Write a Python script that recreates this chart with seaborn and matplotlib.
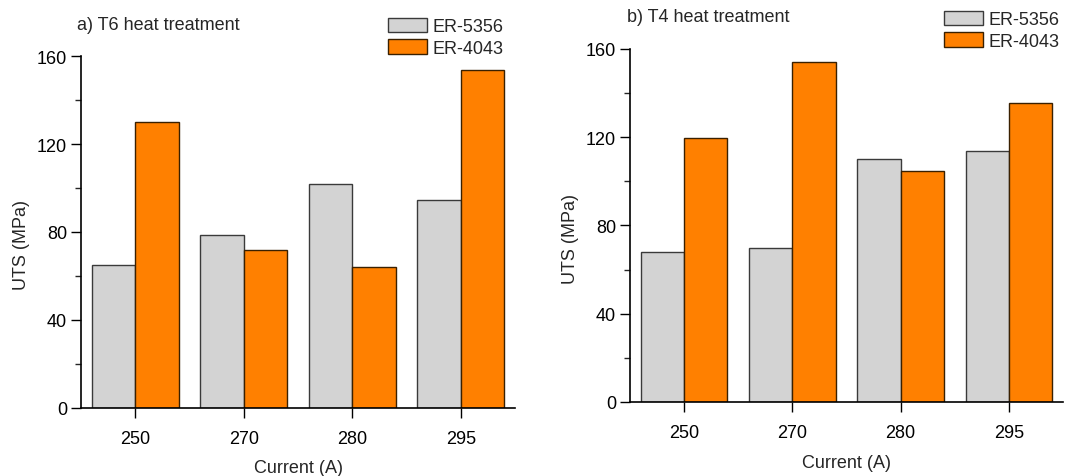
import matplotlib
matplotlib.use("Agg")
import matplotlib.pyplot as plt
import seaborn as sns
import pandas as pd
from matplotlib.ticker import MultipleLocator
from matplotlib.patches import Patch

currents = ["250", "270", "280", "295"]
series = ["ER-5356", "ER-4043"]
t6_er5356 = [65, 78.5, 101.8, 94.4]
t6_er4043 = [130.2, 71.7, 64.1, 153.8]
t4_er5356 = [67.9, 70.0, 110.0, 113.7]
t4_er4043 = [119.7, 154.0, 104.5, 135.5]

colors = {"ER-5356": "#D3D3D3", "ER-4043": "#FF8000"}
edges = {"ER-5356": "#3a3a3a", "ER-4043": "#3a2000"}

sns.set_style("ticks")
plt.rcParams["font.family"] = ["Liberation Sans", "DejaVu Sans"]
plt.rcParams["font.size"] = 13


def make_df(a, b):
    rows = []
    for c, v in zip(currents, a):
        rows.append({"Current": c, "UTS": v, "Filler": series[0]})
    for c, v in zip(currents, b):
        rows.append({"Current": c, "UTS": v, "Filler": series[1]})
    return pd.DataFrame(rows)


fig = plt.figure(figsize=(10.8, 4.77), dpi=100)
W, H = 1080, 477
axL = fig.add_axes([81 / W, 1 - 409 / H, (515 - 81) / W, (409 - 57) / H])
axR = fig.add_axes([630 / W, 1 - 403 / H, (1063 - 630) / W, (403 - 50) / H])

for ax, (a, b) in [(axL, (t6_er5356, t6_er4043)), (axR, (t4_er5356, t4_er4043))]:
    df = make_df(a, b)
    sns.barplot(data=df, x="Current", y="UTS", hue="Filler", order=currents,
                hue_order=series, palette=colors, width=0.8, gap=0,
                linewidth=1.0, legend=False, ax=ax, saturation=1)
    for p in ax.patches:
        fc = matplotlib.colors.to_hex(p.get_facecolor())
        if fc.lower() == "#d3d3d3":
            p.set_edgecolor(edges["ER-5356"])
        else:
            p.set_edgecolor(edges["ER-4043"])
        p.set_linewidth(1.0)
    ax.set_xlim(-0.5, 3.5)
    ax.set_ylim(0, 160)
    ax.yaxis.set_major_locator(MultipleLocator(40))
    ax.yaxis.set_minor_locator(MultipleLocator(20))
    sns.despine(ax=ax)
    for s in ["left", "bottom"]:
        ax.spines[s].set_linewidth(1.2)
        ax.spines[s].set_color("black")
    ax.tick_params(axis="y", which="major", direction="out", length=7, width=1.0,
                   pad=3, labelsize=13, colors="black")
    ax.tick_params(axis="y", which="minor", direction="out", length=4, width=1.0)
    ax.tick_params(axis="x", which="major", direction="out", length=7, width=1.0,
                   pad=9, labelsize=13, colors="black")
    ax.set_xlabel("Current (A)", fontsize=13)
    ax.set_ylabel("UTS (MPa)", fontsize=13)

axL.xaxis.set_label_coords(0.5, -0.145)
axR.xaxis.set_label_coords(0.5, -0.147)
axL.yaxis.set_label_coords(-0.118, 0.465)
axR.yaxis.set_label_coords(-0.118, 0.465)

fig.text(77 / W, 1 - 25 / H, "a) T6 heat treatment", fontsize=13, ha="left", va="center")
fig.text(627 / W, 1 - 18 / H, "b) T4 heat treatment", fontsize=13, ha="left", va="center")

handles = [Patch(facecolor=colors[s], edgecolor=edges[s], linewidth=1.0) for s in series]
for x0, ytop in [(388, 19), (944, 12)]:
    fig.legend(handles, series, loc="upper left", bbox_to_anchor=(x0 / W, 1 - ytop / H),
               frameon=False, borderpad=0, borderaxespad=0, fontsize=13,
               handlelength=2.15, handleheight=0.85, labelspacing=0.22,
               handletextpad=0.3)

fig.savefig("out.png", dpi=100)
